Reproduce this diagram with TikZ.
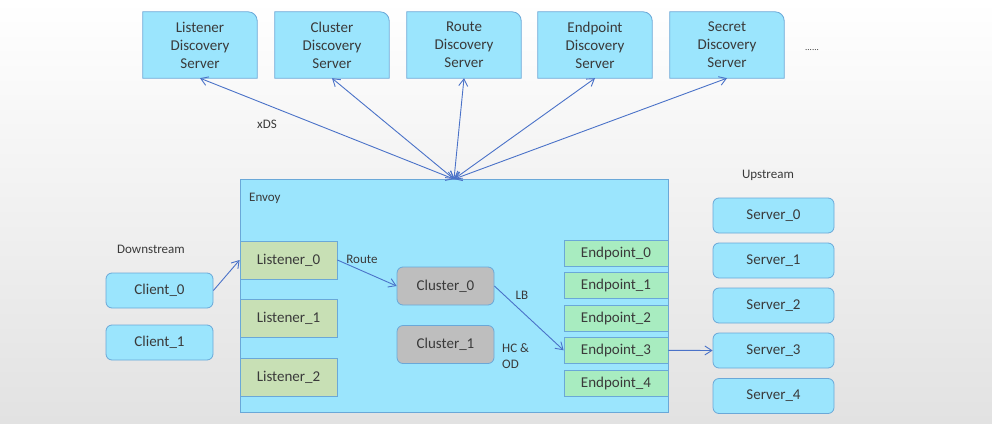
\documentclass[tikz,border=0pt]{standalone}
\usepackage{fontspec}
\setmainfont{Carlito}
\usepackage{xcolor}
\usepackage{tikz}
\usetikzlibrary{positioning, arrows.meta, backgrounds}
\definecolor{boxblue}{HTML}{9BE5FD}
\definecolor{edgeblue}{HTML}{6AA8D8}
\definecolor{lsngreen}{HTML}{C8E0B5}
\definecolor{epgreen}{HTML}{A8ECC0}
\definecolor{clsgray}{HTML}{BEBEBE}
\definecolor{linkblue}{HTML}{4A72C8}
\definecolor{inkgray}{HTML}{3A3A3A}
\definecolor{bggray}{HTML}{E2E2E2}

\begin{document}
\begin{tikzpicture}[x=1pt, y=-1pt, text=inkgray,
    font=\fontsize{15}{18}\selectfont,
    dsbox/.style={minimum width=114pt, minimum height=66pt, inner sep=0pt, align=center},
    dsframe/.style={draw=edgeblue, fill=boxblue, line width=0.8pt},
    hostbox/.style={draw=edgeblue, fill=boxblue, rounded corners=6pt, line width=0.8pt, inner sep=0pt, minimum height=35pt},
    lsnbox/.style={draw=edgeblue, fill=lsngreen, line width=0.8pt, inner sep=0pt, minimum width=97pt, minimum height=38pt},
    clsbox/.style={draw=edgeblue, fill=clsgray, rounded corners=6pt, line width=0.8pt, inner sep=0pt, minimum width=97pt, minimum height=38pt},
    epbox/.style={draw=edgeblue, fill=epgreen, line width=0.8pt, inner sep=0pt, minimum width=104pt, minimum height=26pt},
    lbl/.style={font=\fontsize{13}{16}\selectfont, inner sep=0pt},
    link/.style={draw=linkblue, line width=0.9pt, -{Straight Barb[length=7pt, width=9pt]}},
    xds/.style={link, {Straight Barb[length=7pt, width=9pt]}-{Straight Barb[length=7pt, width=9pt]}}]

  % page, white fading into light gray
  \begin{scope}[on background layer]
    \shade[top color=white, bottom color=bggray] (0,0) rectangle (992,423);
  \end{scope}

  % discovery servers
  \foreach \n/\x/\t in {lds/200/Listener, cds/332/Cluster, rds/464/Route, eds/595/Endpoint, sds/727/Secret}{
    \node[dsbox] (\n) at (\x,45) {\t\\Discovery\\Server};
    \begin{scope}[on background layer]
      \draw[dsframe] (\n.south west) -- (\n.north west) -- ([xshift=-9pt]\n.north east)
        arc[start angle=90, end angle=0, radius=9pt] -- (\n.south east) -- cycle;
    \end{scope}
  }
  \node[font=\fontsize{9}{9}\selectfont, inner sep=0pt] (more) at (812,50) {......};

  % envoy
  \node[draw=edgeblue, fill=boxblue, line width=0.8pt, minimum width=428pt, minimum height=233pt] (envoy) at (454,296) {};
  \node[lbl, anchor=west] (envoylbl) at (249,198) {Envoy};
  \node[lbl] (xdslbl) at (267,124) {xDS};

  \foreach \n in {lds, cds, rds, eds, sds}
    \draw[xds] (envoy.north) -- (\n.south);

  % downstream
  \node[lbl] (down) at (151,249) {Downstream};
  \node[hostbox, minimum width=107pt] (client0) at (159.5,290.5) {Client\_0};
  \node[hostbox, minimum width=107pt] (client1) at (159.5,342.5) {Client\_1};

  % listeners, clusters, endpoints
  \node[lsnbox] (lsn0) at (288.5,260) {Listener\_0};
  \node[lsnbox] (lsn1) at (288.5,318.5) {Listener\_1};
  \node[lsnbox] (lsn2) at (288.5,377.5) {Listener\_2};

  \node[clsbox] (cls0) at (445.5,286) {Cluster\_0};
  \node[clsbox] (cls1) at (445.5,344.5) {Cluster\_1};

  \foreach \i/\y in {0/253.5, 1/285.7, 2/318, 3/350.3, 4/383}
    \node[epbox] (ep\i) at (616,\y) {Endpoint\_\i};

  \node[lbl] (routelbl) at (362,259) {Route};
  \node[lbl] (lblb) at (522,295) {LB};
  \node[lbl, align=left, anchor=west] (hcod) at (502,356) {HC \&\\OD};

  % upstream
  \node[lbl] (up) at (768,175) {Upstream};
  \foreach \i/\y in {0/215.5, 1/260.5, 2/305.5, 3/350.5, 4/396}
    \node[hostbox, minimum width=121pt] (srv\i) at (773.5,\y) {Server\_\i};

  % traffic
  \draw[link] (client0.east) -- (lsn0.west);
  \draw[link] (lsn0.east) -- (cls0.west);
  \draw[link] (cls0.east) -- (ep3.west);
  \draw[link] (ep3.east) -- (srv3.west);
\end{tikzpicture}
\end{document}
